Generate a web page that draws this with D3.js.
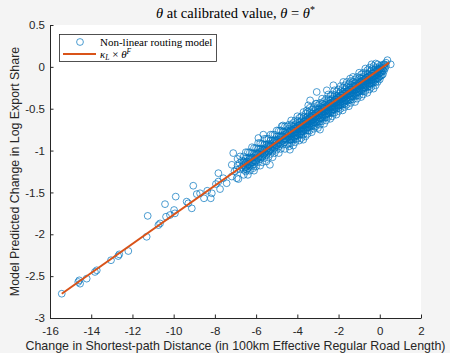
<!DOCTYPE html>
<html>
<head>
<meta charset="utf-8">
<script src="https://cdn.jsdelivr.net/npm/d3@7"></script>
<style>
  html, body { margin: 0; padding: 0; background: #f4f4f4; }
  svg { display: block; }
</style>
</head>
<body>
<svg id="chart" width="450" height="353"></svg>
<script>
const xTickValues = [-16, -14, -12, -10, -8, -6, -4, -2, 0, 2];
const yTickValues = [-3, -2.5, -2, -1.5, -1, -0.5, 0, 0.5];

// kappa_L x theta^F line (endpoints)
const lineX = [-15.43, 0.45];
const lineY = [-2.71, 0.05];

// non-linear routing model, sparse tail
const tailPoints = [
  [-15.43, -2.71], [-14.63, -2.57], [-14.54, -2.59], [-14.58, -2.55], [-14.22, -2.53],
  [-13.82, -2.45], [-13.73, -2.43], [-13.04, -2.31], [-12.69, -2.26], [-12.64, -2.24],
  [-12.20, -2.20], [-11.31, -2.03], [-11.26, -1.78], [-10.74, -1.89], [-10.66, -1.87],
  [-10.42, -1.64], [-10.37, -1.79], [-10.18, -1.77], [-9.98, -1.71], [-9.94, -1.75],
  [-9.90, -1.55], [-9.37, -1.61], [-9.29, -1.63], [-9.12, -1.69], [-9.05, -1.42],
  [-8.88, -1.52], [-8.72, -1.51], [-8.53, -1.57], [-8.37, -1.48], [-8.20, -1.57],
  [-8.15, -1.51], [-7.95, -1.40], [-7.83, -1.37], [-7.75, -1.46], [-7.83, -1.27],
  [-7.59, -1.33], [-7.43, -1.39], [-7.18, -1.17], [-7.18, -1.31], [-6.86, -1.34],
  [-6.94, -1.23], [-6.62, -1.17], [-6.46, -1.23], [-6.78, -1.07], [-7.05, -1.25],
  [-6.90, -1.18], [-7.11, -1.03], [-6.94, -1.33], [-6.9, -1.10], [-6.8, -1.15],
  [-6.7, -1.12], [-6.7, -1.20], [-6.8, -1.22]
];

// scattered points around the band edges
const edgePoints = [
  [-6.14, -1.21], [-5.89, -0.85], [-5.65, -0.81], [-5.33, -1.17], [-4.76, -0.71],
  [-4.36, -0.99], [-3.71, -0.87], [-3.54, -0.52], [-3.47, -0.46], [-3.38, -0.40],
  [-3.06, -0.30], [-3.06, -0.44], [-2.90, -0.75], [-2.57, -0.28], [-2.25, -0.22],
  [-2.01, -0.36], [-1.77, -0.18], [-1.44, -0.14]
];

// non-linear routing model, dense band
const bandPoints = [
  [-6.6, -1.07], [-6.6, -1.13], [-6.6, -1.18], [-6.6, -1.23], [-6.6, -1.29],
  [-6.5, -1.09], [-6.5, -1.15], [-6.5, -1.20], [-6.5, -1.25], [-6.5, -1.02],
  [-6.4, -1.02], [-6.4, -1.09], [-6.4, -1.16], [-6.4, -1.21], [-6.4, -1.29],
  [-6.3, -1.02], [-6.3, -1.08], [-6.3, -1.13], [-6.3, -1.18], [-6.3, -1.24],
  [-6.2, -1.03], [-6.2, -1.09], [-6.2, -1.14], [-6.2, -1.19], [-6.2, -0.96],
  [-6.1, -0.97], [-6.1, -1.04], [-6.1, -1.11], [-6.1, -1.16], [-6.1, -1.24],
  [-6.0, -0.97], [-6.0, -1.03], [-6.0, -1.08], [-6.0, -1.13], [-6.0, -1.19],
  [-5.9, -0.98], [-5.9, -1.04], [-5.9, -1.09], [-5.9, -1.14], [-5.9, -0.91],
  [-5.8, -0.91], [-5.8, -0.98], [-5.8, -1.05], [-5.8, -1.10], [-5.8, -1.18],
  [-5.7, -0.92], [-5.7, -0.98], [-5.7, -1.03], [-5.7, -1.08], [-5.7, -1.14],
  [-5.6, -0.93], [-5.6, -0.99], [-5.6, -1.04], [-5.6, -1.09], [-5.6, -0.86],
  [-5.5, -0.86], [-5.5, -0.93], [-5.5, -1.00], [-5.5, -1.05], [-5.5, -1.13],
  [-5.4, -0.86], [-5.4, -0.92], [-5.4, -0.97], [-5.4, -1.02], [-5.4, -1.08],
  [-5.3, -0.88], [-5.3, -0.94], [-5.3, -0.99], [-5.3, -1.04], [-5.3, -0.81],
  [-5.2, -0.81], [-5.2, -0.88], [-5.2, -0.95], [-5.2, -1.00], [-5.2, -1.08],
  [-5.1, -0.81], [-5.1, -0.87], [-5.1, -0.92], [-5.1, -0.97], [-5.1, -1.03],
  [-5.0, -0.83], [-5.0, -0.89], [-5.0, -0.94], [-5.0, -0.99], [-5.0, -0.76],
  [-4.9, -0.76], [-4.9, -0.83], [-4.9, -0.90], [-4.9, -0.95], [-4.9, -1.03],
  [-4.8, -0.76], [-4.8, -0.82], [-4.8, -0.87], [-4.8, -0.92], [-4.8, -0.98],
  [-4.7, -0.77], [-4.7, -0.83], [-4.7, -0.88], [-4.7, -0.93], [-4.7, -0.70],
  [-4.6, -0.71], [-4.6, -0.78], [-4.6, -0.85], [-4.6, -0.90], [-4.6, -0.98],
  [-4.5, -0.71], [-4.5, -0.77], [-4.5, -0.82], [-4.5, -0.87], [-4.5, -0.93],
  [-4.4, -0.69], [-4.4, -0.74], [-4.4, -0.79], [-4.4, -0.83], [-4.4, -0.87], [-4.4, -0.91], [-4.4, -0.95],
  [-4.3, -0.70], [-4.3, -0.75], [-4.3, -0.79], [-4.3, -0.83], [-4.3, -0.87], [-4.3, -0.91], [-4.3, -0.64],
  [-4.2, -0.72], [-4.2, -0.76], [-4.2, -0.79], [-4.2, -0.83], [-4.2, -0.87], [-4.2, -0.94], [-4.2, -0.67],
  [-4.1, -0.64], [-4.1, -0.69], [-4.1, -0.74], [-4.1, -0.78], [-4.1, -0.82], [-4.1, -0.86], [-4.1, -0.90],
  [-4.0, -0.65], [-4.0, -0.70], [-4.0, -0.74], [-4.0, -0.78], [-4.0, -0.82], [-4.0, -0.86], [-4.0, -0.59],
  [-3.9, -0.66], [-3.9, -0.70], [-3.9, -0.73], [-3.9, -0.77], [-3.9, -0.81], [-3.9, -0.88], [-3.9, -0.61],
  [-3.8, -0.59], [-3.8, -0.64], [-3.8, -0.69], [-3.8, -0.73], [-3.8, -0.77], [-3.8, -0.81], [-3.8, -0.85],
  [-3.7, -0.60], [-3.7, -0.65], [-3.7, -0.69], [-3.7, -0.73], [-3.7, -0.77], [-3.7, -0.81], [-3.7, -0.54],
  [-3.6, -0.61], [-3.6, -0.65], [-3.6, -0.68], [-3.6, -0.72], [-3.6, -0.76], [-3.6, -0.83], [-3.6, -0.56],
  [-3.5, -0.54], [-3.5, -0.59], [-3.5, -0.64], [-3.5, -0.68], [-3.5, -0.72], [-3.5, -0.76], [-3.5, -0.80],
  [-3.4, -0.55], [-3.4, -0.60], [-3.4, -0.64], [-3.4, -0.68], [-3.4, -0.72], [-3.4, -0.76], [-3.4, -0.49],
  [-3.3, -0.56], [-3.3, -0.60], [-3.3, -0.63], [-3.3, -0.67], [-3.3, -0.71], [-3.3, -0.78], [-3.3, -0.51],
  [-3.2, -0.48], [-3.2, -0.53], [-3.2, -0.58], [-3.2, -0.62], [-3.2, -0.66], [-3.2, -0.70], [-3.2, -0.74],
  [-3.1, -0.50], [-3.1, -0.55], [-3.1, -0.59], [-3.1, -0.63], [-3.1, -0.67], [-3.1, -0.71], [-3.1, -0.44],
  [-3.0, -0.51], [-3.0, -0.55], [-3.0, -0.58], [-3.0, -0.62], [-3.0, -0.66], [-3.0, -0.73], [-3.0, -0.46],
  [-2.9, -0.43], [-2.9, -0.48], [-2.9, -0.53], [-2.9, -0.57], [-2.9, -0.61], [-2.9, -0.65], [-2.9, -0.69],
  [-2.8, -0.44], [-2.8, -0.49], [-2.8, -0.53], [-2.8, -0.57], [-2.8, -0.61], [-2.8, -0.65], [-2.8, -0.38],
  [-2.7, -0.46], [-2.7, -0.50], [-2.7, -0.53], [-2.7, -0.57], [-2.7, -0.61], [-2.7, -0.68], [-2.7, -0.41],
  [-2.6, -0.38], [-2.6, -0.43], [-2.6, -0.48], [-2.6, -0.52], [-2.6, -0.56], [-2.6, -0.60], [-2.6, -0.64],
  [-2.5, -0.39], [-2.5, -0.44], [-2.5, -0.48], [-2.5, -0.52], [-2.5, -0.56], [-2.5, -0.60], [-2.5, -0.33],
  [-2.4, -0.40], [-2.4, -0.44], [-2.4, -0.47], [-2.4, -0.51], [-2.4, -0.55], [-2.4, -0.62], [-2.4, -0.35],
  [-2.3, -0.33], [-2.3, -0.38], [-2.3, -0.43], [-2.3, -0.47], [-2.3, -0.51], [-2.3, -0.55], [-2.3, -0.59],
  [-2.2, -0.34], [-2.2, -0.39], [-2.2, -0.43], [-2.2, -0.47], [-2.2, -0.51], [-2.2, -0.55], [-2.2, -0.28],
  [-2.1, -0.35], [-2.1, -0.39], [-2.1, -0.42], [-2.1, -0.46], [-2.1, -0.50], [-2.1, -0.57], [-2.1, -0.30],
  [-2.0, -0.27], [-2.0, -0.32], [-2.0, -0.37], [-2.0, -0.41], [-2.0, -0.45], [-2.0, -0.49], [-2.0, -0.53],
  [-1.9, -0.29], [-1.9, -0.34], [-1.9, -0.38], [-1.9, -0.42], [-1.9, -0.46], [-1.9, -0.50], [-1.9, -0.23],
  [-1.8, -0.30], [-1.8, -0.34], [-1.8, -0.37], [-1.8, -0.41], [-1.8, -0.45], [-1.8, -0.52], [-1.8, -0.25],
  [-1.7, -0.22], [-1.7, -0.27], [-1.7, -0.32], [-1.7, -0.36], [-1.7, -0.40], [-1.7, -0.44], [-1.7, -0.48],
  [-1.6, -0.24], [-1.6, -0.29], [-1.6, -0.33], [-1.6, -0.37], [-1.6, -0.41], [-1.6, -0.45], [-1.6, -0.18],
  [-1.5, -0.25], [-1.5, -0.29], [-1.5, -0.32], [-1.5, -0.36], [-1.5, -0.40], [-1.5, -0.47], [-1.5, -0.20],
  [-1.4, -0.17], [-1.4, -0.22], [-1.4, -0.27], [-1.4, -0.31], [-1.4, -0.35], [-1.4, -0.39], [-1.4, -0.43],
  [-1.3, -0.18], [-1.3, -0.23], [-1.3, -0.27], [-1.3, -0.31], [-1.3, -0.35], [-1.3, -0.39], [-1.3, -0.12],
  [-1.2, -0.20], [-1.2, -0.24], [-1.2, -0.27], [-1.2, -0.31], [-1.2, -0.35], [-1.2, -0.42], [-1.2, -0.15],
  [-1.1, -0.12], [-1.1, -0.17], [-1.1, -0.22], [-1.1, -0.26], [-1.1, -0.30], [-1.1, -0.34], [-1.1, -0.38],
  [-1.0, -0.13], [-1.0, -0.18], [-1.0, -0.22], [-1.0, -0.26], [-1.0, -0.30], [-1.0, -0.34], [-1.0, -0.07],
  [-0.9, -0.14], [-0.9, -0.18], [-0.9, -0.21], [-0.9, -0.25], [-0.9, -0.29], [-0.9, -0.36], [-0.9, -0.09],
  [-0.8, -0.07], [-0.8, -0.12], [-0.8, -0.17], [-0.8, -0.21], [-0.8, -0.25], [-0.8, -0.29], [-0.8, -0.33],
  [-0.7, -0.08], [-0.7, -0.13], [-0.7, -0.17], [-0.7, -0.21], [-0.7, -0.25], [-0.7, -0.29], [-0.7, -0.02],
  [-0.6, -0.09], [-0.6, -0.13], [-0.6, -0.16], [-0.6, -0.20], [-0.6, -0.24], [-0.6, -0.31], [-0.6, -0.04],
  [-0.5, -0.01], [-0.5, -0.06], [-0.5, -0.11], [-0.5, -0.15], [-0.5, -0.19], [-0.5, -0.23], [-0.5, -0.27],
  [-0.4, -0.03], [-0.4, -0.08], [-0.4, -0.12], [-0.4, -0.16], [-0.4, -0.20], [-0.4, -0.24], [-0.4, 0.03],
  [-0.3, -0.04], [-0.3, -0.08], [-0.3, -0.11], [-0.3, -0.15], [-0.3, -0.19], [-0.3, -0.26], [-0.3, 0.01],
  [-0.2, 0.04], [-0.2, -0.01], [-0.2, -0.06], [-0.2, -0.10], [-0.2, -0.14], [-0.2, -0.18], [-0.2, -0.22],
  [-0.1, 0.03], [-0.1, -0.02], [-0.1, -0.06], [-0.1, -0.10], [-0.1, -0.14], [-0.1, -0.18],
  [0.0, 0.01], [0.0, -0.03], [0.0, -0.07], [0.0, -0.11], [0.0, -0.15],
  [0.1, 0.02], [0.1, -0.02], [0.1, -0.06], [0.1, -0.10],
  [0.2, 0.03], [0.2, -0.01], [0.2, -0.05],
  [0.3, 0.05], [0.3, 0.01],
  [0.37, 0.08], [0.53, 0.03]
];

// non-linear routing model, packed core of the band
const corePoints = [
  [-6.55, -1.14], [-6.55, -1.20], [-6.45, -1.13], [-6.45, -1.19], [-6.35, -1.11], [-6.35, -1.17],
  [-6.25, -1.09], [-6.25, -1.15], [-6.15, -1.08], [-6.15, -1.14], [-6.05, -1.06], [-6.05, -1.12],
  [-5.95, -1.04], [-5.95, -1.10], [-5.85, -1.02], [-5.85, -1.08], [-5.75, -1.01], [-5.75, -1.07],
  [-5.65, -0.99], [-5.65, -1.05], [-5.55, -0.97], [-5.55, -1.03], [-5.45, -0.95], [-5.45, -1.01],
  [-5.35, -0.94], [-5.35, -1.00], [-5.25, -0.92], [-5.25, -0.98], [-5.15, -0.90], [-5.15, -0.96],
  [-5.05, -0.88], [-5.05, -0.94], [-4.95, -0.87], [-4.95, -0.93], [-4.85, -0.85], [-4.85, -0.91],
  [-4.75, -0.83], [-4.75, -0.89], [-4.65, -0.81], [-4.65, -0.87], [-4.55, -0.80], [-4.55, -0.86],
  [-4.45, -0.78], [-4.45, -0.84],
  [-4.35, -0.77], [-4.35, -0.82], [-4.35, -0.87], [-4.25, -0.76], [-4.25, -0.81], [-4.25, -0.86],
  [-4.15, -0.74], [-4.15, -0.79], [-4.15, -0.84], [-4.05, -0.72], [-4.05, -0.77], [-4.05, -0.82],
  [-3.95, -0.70], [-3.95, -0.75], [-3.95, -0.80], [-3.85, -0.69], [-3.85, -0.74], [-3.85, -0.79],
  [-3.75, -0.67], [-3.75, -0.72], [-3.75, -0.77], [-3.65, -0.65], [-3.65, -0.70], [-3.65, -0.75],
  [-3.55, -0.63], [-3.55, -0.68], [-3.55, -0.73], [-3.45, -0.62], [-3.45, -0.67], [-3.45, -0.72],
  [-3.35, -0.60], [-3.35, -0.65], [-3.35, -0.70], [-3.25, -0.58], [-3.25, -0.63], [-3.25, -0.68],
  [-3.15, -0.56], [-3.15, -0.61], [-3.15, -0.66], [-3.05, -0.55], [-3.05, -0.60], [-3.05, -0.65],
  [-2.95, -0.53], [-2.95, -0.58], [-2.95, -0.63], [-2.85, -0.51], [-2.85, -0.56], [-2.85, -0.61],
  [-2.75, -0.49], [-2.75, -0.54], [-2.75, -0.59], [-2.65, -0.48], [-2.65, -0.53], [-2.65, -0.58],
  [-2.55, -0.46], [-2.55, -0.51], [-2.55, -0.56], [-2.45, -0.44], [-2.45, -0.49], [-2.45, -0.54],
  [-2.35, -0.43], [-2.35, -0.48], [-2.35, -0.53], [-2.25, -0.41], [-2.25, -0.46], [-2.25, -0.51],
  [-2.15, -0.39], [-2.15, -0.44], [-2.15, -0.49], [-2.05, -0.37], [-2.05, -0.42], [-2.05, -0.47],
  [-1.95, -0.36], [-1.95, -0.41], [-1.95, -0.46], [-1.85, -0.34], [-1.85, -0.39], [-1.85, -0.44],
  [-1.75, -0.32], [-1.75, -0.37], [-1.75, -0.42], [-1.65, -0.30], [-1.65, -0.35], [-1.65, -0.40],
  [-1.55, -0.29], [-1.55, -0.34], [-1.55, -0.39], [-1.45, -0.27], [-1.45, -0.32], [-1.45, -0.37],
  [-1.35, -0.25], [-1.35, -0.30], [-1.35, -0.35], [-1.25, -0.23], [-1.25, -0.28], [-1.25, -0.33],
  [-1.15, -0.22], [-1.15, -0.27], [-1.15, -0.32], [-1.05, -0.20], [-1.05, -0.25], [-1.05, -0.30],
  [-0.95, -0.18], [-0.95, -0.23], [-0.95, -0.28], [-0.85, -0.17], [-0.85, -0.22], [-0.85, -0.27],
  [-0.75, -0.15], [-0.75, -0.20], [-0.75, -0.25], [-0.65, -0.13], [-0.65, -0.18], [-0.65, -0.23],
  [-0.55, -0.11], [-0.55, -0.16], [-0.55, -0.21], [-0.45, -0.10], [-0.45, -0.15], [-0.45, -0.20],
  [-0.35, -0.08], [-0.35, -0.13], [-0.35, -0.18], [-0.25, -0.06], [-0.25, -0.11], [-0.25, -0.16],
  [-0.15, -0.04], [-0.15, -0.09], [-0.15, -0.14], [-0.05, -0.03], [-0.05, -0.08], [-0.05, -0.13],
  [0.05, -0.01], [0.05, -0.06], [0.05, -0.11], [0.15, 0.01], [0.15, -0.04], [0.15, -0.09],
  [0.25, 0.03], [0.25, -0.02]
];

const points = tailPoints.concat(edgePoints, bandPoints, corePoints);

const blue = "#0072BD";
const orange = "#D95319";
const axisColor = "#262626";

const svg = d3.select("#chart");

// axes box
const plotLeft = 50, plotRight = 421, plotTop = 25, plotBottom = 318;

svg.append("rect")
  .attr("x", plotLeft).attr("y", plotTop)
  .attr("width", plotRight - plotLeft).attr("height", plotBottom - plotTop)
  .attr("fill", "#ffffff");

const x = d3.scaleLinear().domain([-16, 2]).range([plotLeft, plotRight]);
const y = d3.scaleLinear().domain([-3, 0.5]).range([plotBottom, plotTop]);

// points
svg.append("g")
  .selectAll("circle")
  .data(points)
  .enter()
  .append("circle")
  .attr("cx", d => x(d[0]))
  .attr("cy", d => y(d[1]))
  .attr("r", 3.4)
  .attr("fill", "none")
  .attr("stroke", blue)
  .attr("stroke-width", 0.7);

// fitted line
svg.append("path")
  .datum(lineX.map((v, i) => [v, lineY[i]]))
  .attr("fill", "none")
  .attr("stroke", orange)
  .attr("stroke-width", 2)
  .attr("d", d3.line().x(d => x(d[0])).y(d => y(d[1])));

// x axis
const xAxis = svg.append("g")
  .attr("transform", "translate(0," + plotBottom + ")")
  .call(d3.axisBottom(x).tickValues(xTickValues).tickFormat(d => String(d))
    .tickSizeInner(-3.5).tickSizeOuter(0).tickPadding(9));

// y axis
const yAxis = svg.append("g")
  .attr("transform", "translate(" + plotLeft + ",0)")
  .call(d3.axisLeft(y).tickValues(yTickValues).tickFormat(d => String(d))
    .tickSizeInner(-3.5).tickSizeOuter(0).tickPadding(5));

[xAxis, yAxis].forEach(g => {
  g.select(".domain").attr("stroke", axisColor).attr("stroke-width", 1);
  g.selectAll(".tick line").attr("stroke", axisColor).attr("stroke-width", 1);
  g.selectAll(".tick text")
    .attr("fill", axisColor)
    .style("font-family", "'Liberation Sans', Arial, sans-serif")
    .style("font-size", "11.5px");
});

// axis labels
svg.append("text")
  .attr("x", (plotLeft + plotRight) / 2)
  .attr("y", 349.5)
  .attr("text-anchor", "middle")
  .attr("fill", axisColor)
  .style("font-family", "'Liberation Sans', Arial, sans-serif")
  .style("font-size", "12.4px")
  .text("Change in Shortest-path Distance (in 100km Effective Regular Road Length)");

svg.append("text")
  .attr("transform", "translate(19," + (plotTop + plotBottom) / 2 + ") rotate(-90)")
  .attr("text-anchor", "middle")
  .attr("fill", axisColor)
  .style("font-family", "'Liberation Sans', Arial, sans-serif")
  .style("font-size", "12.4px")
  .text("Model Predicted Change in Log Export Share");

// title
const serif = "'Liberation Serif', 'DejaVu Serif', serif";
const title = svg.append("text")
  .attr("x", (plotLeft + plotRight) / 2)
  .attr("y", 18)
  .attr("text-anchor", "middle")
  .attr("fill", "#000")
  .style("font-family", serif)
  .style("font-size", "14.5px");
title.append("tspan").style("font-style", "italic").text("θ");
title.append("tspan").text(" at calibrated value, ");
title.append("tspan").style("font-style", "italic").text("θ");
title.append("tspan").text(" = ");
title.append("tspan").style("font-style", "italic").text("θ");
title.append("tspan").attr("dy", -5).style("font-size", "10px").text("*");

// legend
const legend = svg.append("g");
legend.append("rect")
  .attr("x", 59.5).attr("y", 34.5)
  .attr("width", 157).attr("height", 27)
  .attr("fill", "#ffffff")
  .attr("stroke", axisColor)
  .attr("stroke-width", 0.8);

legend.append("circle")
  .attr("cx", 80).attr("cy", 42).attr("r", 3.4)
  .attr("fill", "none").attr("stroke", blue).attr("stroke-width", 0.7);

legend.append("text")
  .attr("x", 100).attr("y", 45.5)
  .style("font-family", serif).style("font-size", "11px")
  .text("Non-linear routing model");

legend.append("line")
  .attr("x1", 63).attr("x2", 96).attr("y1", 54).attr("y2", 54)
  .attr("stroke", orange).attr("stroke-width", 2);

const lt = legend.append("text")
  .attr("x", 100).attr("y", 57.5)
  .style("font-family", serif).style("font-size", "11px");
lt.append("tspan").style("font-style", "italic").text("κ");
lt.append("tspan").attr("dy", 2.5).style("font-size", "7.5px").style("font-style", "italic").text("L");
lt.append("tspan").attr("dy", -2.5).text(" × ");
lt.append("tspan").style("font-style", "italic").text("θ");
lt.append("tspan").attr("dy", -3.5).style("font-size", "7.5px").style("font-style", "italic").text("F");
</script>
</body>
</html>
